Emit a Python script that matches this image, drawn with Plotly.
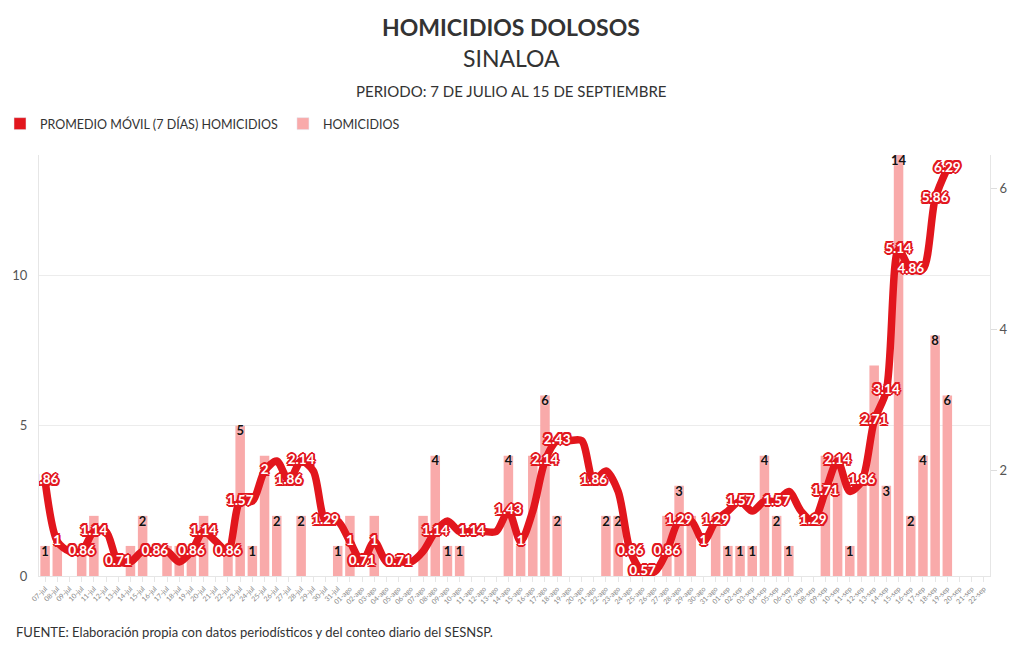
import plotly.graph_objects as go

FONT = "Lato"

dates = [
    "07-jul", "08-jul", "09-jul", "10-jul", "11-jul", "12-jul", "13-jul", "14-jul", "15-jul", "16-jul",
    "17-jul", "18-jul", "19-jul", "20-jul", "21-jul", "22-jul", "23-jul", "24-jul", "25-jul", "26-jul",
    "27-jul", "28-jul", "29-jul", "30-jul", "31-jul",
    "01-ago", "02-ago", "03-ago", "04-ago", "05-ago", "06-ago", "07-ago", "08-ago", "09-ago", "10-ago",
    "11-ago", "12-ago", "13-ago", "14-ago", "15-ago", "16-ago", "17-ago", "18-ago", "19-ago", "20-ago",
    "21-ago", "22-ago", "23-ago", "24-ago", "25-ago", "26-ago", "27-ago", "28-ago", "29-ago", "30-ago",
    "31-ago",
    "01-sep", "02-sep", "03-sep", "04-sep", "05-sep", "06-sep", "07-sep", "08-sep", "09-sep", "10-sep",
    "11-sep", "12-sep", "13-sep", "14-sep", "15-sep", "16-sep", "17-sep", "18-sep", "19-sep", "20-sep",
    "21-sep", "22-sep",
]

homicidios = [
    1, 1, 0, 1, 2, 0, 0, 1, 2, 0,
    1, 1, 1, 2, 0, 1, 5, 1, 4, 2,
    0, 2, 0, 0, 1,
    2, 0, 2, 0, 0, 0, 2, 4, 1, 1,
    0, 0, 0, 4, 1, 4, 6, 2, 0, 0,
    0, 2, 2, 0, 0, 0, 2, 3, 2, 0,
    2,
    1, 1, 1, 4, 2, 1, 0, 0, 4, 4,
    1, 3, 7, 3, 14, 2, 4, 8, 6, None,
    None, None,
]

promedio = [
    1.86, 1, 0.86, 0.86, 1.14, 1.14, 0.71, 0.71, 0.86, 0.86,
    0.86, 0.71, 0.86, 1.14, 1, 0.86, 1.57, 1.57, 2, 2.14,
    1.86, 2.14, 2, 1.29, 1.29,
    1, 0.71, 1, 0.71, 0.71, 0.71, 0.86, 1.14, 1.29, 1.14,
    1.14, 1.14, 1.14, 1.43, 1, 1.43, 2.14, 2.43, 2.43, 2.43,
    1.86, 2, 1.71, 0.86, 0.57, 0.57, 0.86, 1.29, 1.29, 1,
    1.29,
    1.43, 1.57, 1.43, 1.57, 1.57, 1.71, 1.43, 1.29, 1.71, 2.14,
    1.71, 1.86, 2.71, 3.14, 5.14, 4.86, 4.86, 5.86, 6.29, None,
    None, None,
]

# which value labels are visible in the reference (others hidden by overlap)
promedio_label_idx = [0, 1, 3, 4, 6, 9, 12, 13, 15, 16, 18, 20, 21, 23, 25, 26, 27, 29, 32, 35,
                      38, 39, 41, 42, 45, 48, 49, 51, 52, 54, 55, 57, 60, 63, 64, 65, 67, 68,
                      69, 70, 71, 73, 74]
homicidios_label_idx = [0, 8, 16, 17, 19, 21, 24, 32, 33, 34, 38, 41, 42, 46, 47, 52, 56, 57, 58,
                        59, 60, 61, 66, 69, 70, 71, 72, 73, 74]

RED = "#e2161d"
PINK = "#f9aaaa"

line_text = [f"{v:g}" if (i in promedio_label_idx and v is not None) else "" for i, v in enumerate(promedio)]
bar_text = [f"<b>{v}</b>" if (i in homicidios_label_idx and v) else "" for i, v in enumerate(homicidios)]

fig = go.Figure()

fig.add_trace(go.Bar(
    x=dates, y=homicidios, name="HOMICIDIOS", marker_color=PINK, marker_line_width=0,
    showlegend=False, hoverinfo="skip",
))

fig.add_trace(go.Scatter(
    x=dates, y=homicidios, mode="text", text=bar_text, textposition="bottom center",
    textfont=dict(family=FONT, size=13, color="#111111",
                  shadow="0 0 2px rgba(255,255,255,0.6)"),
    showlegend=False, hoverinfo="skip",
))

fig.add_trace(go.Scatter(
    x=dates, y=promedio, yaxis="y2", mode="lines+text", text=line_text,
    textposition="middle center",
    line=dict(color=RED, width=7.5, shape="spline", smoothing=0.8),
    textfont=dict(family=FONT, size=13.5, color="white", weight="bold",
                  shadow=("-2px 0 0 %s, 2px 0 0 %s, 0 -2px 0 %s, 0 2px 0 %s, "
                          "-1.5px -1.5px 0 %s, 1.5px -1.5px 0 %s, -1.5px 1.5px 0 %s, 1.5px 1.5px 0 %s")
                  % ((RED,) * 8)),
    showlegend=False, hoverinfo="skip", connectgaps=False,
))

# legend entries
fig.add_trace(go.Bar(x=[None], y=[None], name="PROMEDIO MÓVIL (7 DÍAS) HOMICIDIOS",
                     marker_color=RED, showlegend=True))
fig.add_trace(go.Bar(x=[None], y=[None], name="HOMICIDIOS", marker_color=PINK, showlegend=True))

fig.update_layout(
    width=1020, height=650,
    margin=dict(l=35, r=29, t=155, b=74),
    paper_bgcolor="white", plot_bgcolor="white",
    font=dict(family=FONT, color="#333333"),
    bargap=0.22,
    barmode="overlay",
    legend=dict(orientation="h", xref="container", yref="container", x=-0.01, y=1 - 124 / 650,
                xanchor="left", yanchor="middle", font=dict(size=12.5, color="#333333"),
                itemwidth=30, tracegroupgap=0, bgcolor="rgba(0,0,0,0)"),
    xaxis=dict(type="category", range=[-0.5, 77.5], tickangle=-45,
               tickfont=dict(size=7, color="#888888"),
               ticks="outside", ticklen=5, tickcolor="#e6e6e6",
               showline=True, linecolor="#e6e6e6", showgrid=False, fixedrange=True),
    yaxis=dict(range=[0, 14], tickvals=[0, 5, 10], showgrid=True, gridcolor="#ececec",
               zeroline=False, showline=True, linecolor="#e6e6e6",
               tickfont=dict(size=13, color="#555555"), ticks="", ticklabelstandoff=8),
    yaxis2=dict(overlaying="y", side="right", range=[0.51, 6.48], tickvals=[2, 4, 6],
                showgrid=False, zeroline=False, showline=True, linecolor="#e6e6e6",
                ticks="outside", ticklen=6, tickcolor="#dddddd",
                tickfont=dict(size=13, color="#555555")),
    annotations=[
        dict(text="<b>HOMICIDIOS DOLOSOS</b>", xref="paper", yref="paper", x=0.4967,
             y=(576 - 27) / 421, xanchor="center", yanchor="middle", showarrow=False,
             font=dict(size=23, color="#333333", family=FONT)),
        dict(text="SINALOA", xref="paper", yref="paper", x=0.4967,
             y=(576 - 58) / 421, xanchor="center", yanchor="middle", showarrow=False,
             font=dict(size=23, color="#333333", family=FONT)),
        dict(text="PERIODO: 7 DE JULIO AL 15 DE SEPTIEMBRE", xref="paper", yref="paper", x=0.4967,
             y=(576 - 91) / 421, xanchor="center", yanchor="middle", showarrow=False,
             font=dict(size=15, color="#333333", family=FONT)),
        dict(text="FUENTE: Elaboración propia con datos periodísticos y del conteo diario del SESNSP.",
             xref="paper", yref="paper", x=(10 - 35) / 956, y=(576 - 632) / 421,
             xanchor="left", yanchor="middle", showarrow=False,
             font=dict(size=13, color="#333333", family=FONT)),
    ],
)

fig.write_html("out.html")
